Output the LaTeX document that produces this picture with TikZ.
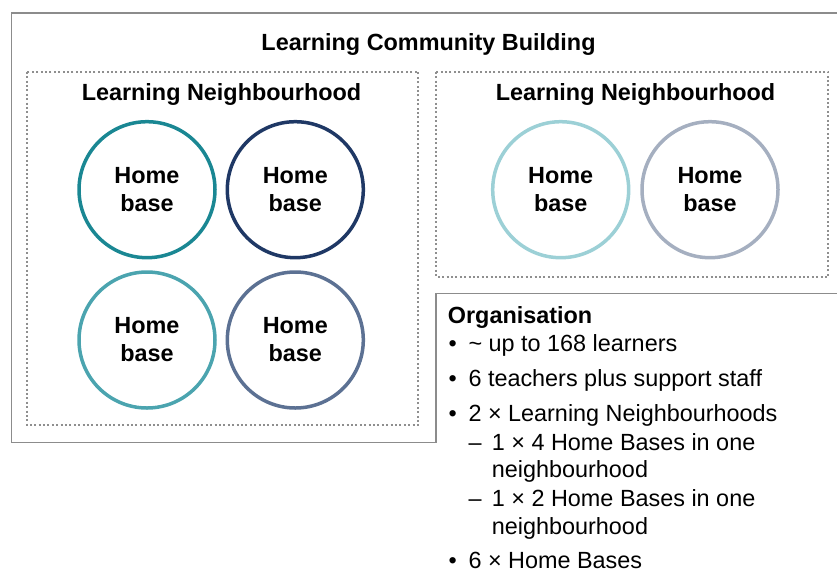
\documentclass[tikz,border=0pt]{standalone}
\usepackage{fontspec}
\setmainfont{Liberation Sans}
\begin{document}
\begin{tikzpicture}[x=1pt,y=-1pt,
  every node/.style={font=\fontsize{23.4}{28}\selectfont, inner sep=0pt},
  hb/.style={circle, draw=#1, line width=3.5pt, minimum size=136pt, align=center, font=\fontsize{23.4}{28}\selectfont\bfseries},
  ttl/.style={anchor=base, font=\fontsize{23.4}{28}\selectfont\bfseries},
  txt/.style={anchor=base west},
  dotbox/.style={draw=dotgray, line width=2pt, dash pattern=on 2pt off 2.4pt},
  wall/.style={draw=wallgray, line width=1.6pt}
]
\definecolor{wallgray}{HTML}{8C8C8C}
\definecolor{dotgray}{HTML}{8F8F8F}
\definecolor{cA}{HTML}{1A8793}
\definecolor{cB}{HTML}{1F3865}
\definecolor{cC}{HTML}{4BA4AF}
\definecolor{cD}{HTML}{5C7193}
\definecolor{cE}{HTML}{9CD0D6}
\definecolor{cF}{HTML}{A5AFC0}
\useasboundingbox (0,0) rectangle (837,571);

% building outline
\coordinate (w1) at (837,13);
\coordinate (w2) at (11.3,13);
\coordinate (w3) at (11.3,442.5);
\coordinate (w4) at (435.7,442.5);
\coordinate (w5) at (435.7,293.3);
\coordinate (w6) at (837,293.3);
\draw[wall] (w1) -- (w2) -- (w3) -- (w4) -- (w5) -- (w6);

\node[ttl] (title) at (428.5,50) {Learning Community Building};

% neighbourhood boxes
\draw[dotbox] (26.7,71.7) rectangle (418.3,425);
\draw[dotbox] (436,71.7) rectangle (828.3,276.7);
\node[ttl] (n1) at (221.5,100) {Learning Neighbourhood};
\node[ttl] (n2) at (635.5,100) {Learning Neighbourhood};

% home bases
\node[hb=cA] (h1) at (147,189.7) {Home\\base};
\node[hb=cB] (h2) at (295.3,189.7) {Home\\base};
\node[hb=cC] (h3) at (147,340) {Home\\base};
\node[hb=cD] (h4) at (295.3,340) {Home\\base};
\node[hb=cE] (h5) at (560.7,189.7) {Home\\base};
\node[hb=cF] (h6) at (710,189.7) {Home\\base};

% organisation
\node[anchor=base west, font=\fontsize{23.4}{28}\selectfont\bfseries] (org) at (447.7,323.3) {Organisation};
\node[txt] (b1) at (448.5,351.7) {•};
\node[txt] (t1) at (468.3,351.7) {\textasciitilde{} up to 168 learners};
\node[txt] (b2) at (448.5,386.7) {•};
\node[txt] (t2) at (468.3,386.7) {6 teachers plus support staff};
\node[txt] (b3) at (448.5,421.7) {•};
\node[txt] (t3) at (468.3,421.7) {2 × Learning Neighbourhoods};
\node[txt] (d1) at (468.3,450) {–};
\node[txt] (s1) at (491.7,450) {1 × 4 Home Bases in one};
\node[txt] (s1b) at (491.7,477.3) {neighbourhood};
\node[txt] (d2) at (468.3,506.7) {–};
\node[txt] (s2) at (491.7,506.7) {1 × 2 Home Bases in one};
\node[txt] (s2b) at (491.7,534) {neighbourhood};
\node[txt] (b4) at (448.5,568.3) {•};
\node[txt] (t4) at (468.3,568.3) {6 × Home Bases};
\end{tikzpicture}
\end{document}
